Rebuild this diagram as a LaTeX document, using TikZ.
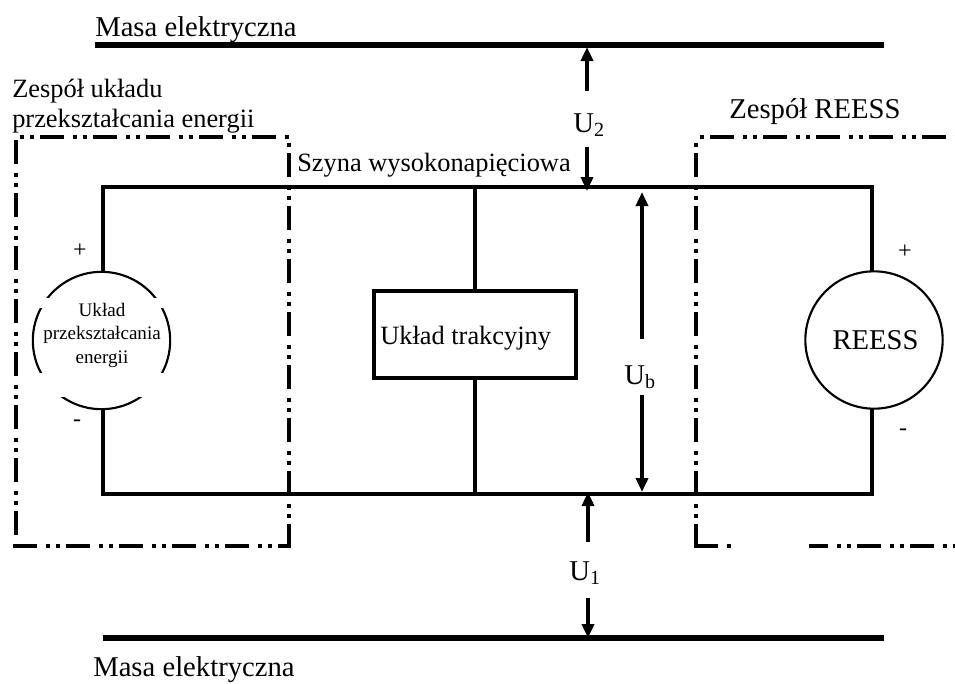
\documentclass[tikz,border=0pt]{standalone}
\usepackage{fontspec}
\setmainfont{Liberation Serif}
\usetikzlibrary{arrows.meta,calc}
\newcommand{\fsz}[2]{\fontsize{#1}{#2}\selectfont}
\tikzset{
  x=0.75pt,y=-0.75pt,
  wire/.style={line width=2.5pt,line cap=rect},
  bar/.style={line width=5.2pt},
  dd/.style={line width=3pt,dash pattern=on 18pt off 6.5pt on 3pt off 4.5pt on 3pt off 4.75pt},
  volt/.style={line width=2.8pt,-{Triangle[length=10.5pt,width=9pt]}},
  lab/.style={inner sep=0pt,font=\fsz{21.5}{22.5}},
  labs/.style={inner sep=0pt,font=\fsz{19.8}{22.5}},
  ring/.style={circle,draw,line width=1.6pt,minimum size=103pt,inner sep=0pt},
  mask/.style={fill=white,draw=none},
  sgn/.style={inner sep=0pt,font=\fsz{18}{20}},
}
\begin{document}
\begin{tikzpicture}
\useasboundingbox (0,0) rectangle (955,683);
% thick ground bars
\coordinate (gtl) at (95,45); \coordinate (gtr) at (884,45);
\coordinate (gbl) at (103,638); \coordinate (gbr) at (884,638);
\draw[bar] (gtl) -- (gtr);
\draw[bar] (gbl) -- (gbr);
% dash-dot-dot enclosures
\draw[dd,dash phase=21pt] (15,137) -- (289,137);
\draw[dd] (15.5,140) -- (15.5,546);
\draw[dd] (13,546) -- (291,546);
\draw[dd,dash phase=27.75pt] (289,137) -- (289,546);
\draw[dd,dash phase=29.25pt] (696,137) -- (955,137);
\draw[dd,dash phase=27.75pt] (696,137) -- (696,546);
\draw[dd] (694,545.5) -- (732,545.5);
\draw[dd,dash phase=3.75pt] (809,545.5) -- (955,545.5);
% circuit nodes
\node[ring] (src) at (101.5,340.5) {};
\fill[mask] (25,298) rectangle (180,308);
\fill[mask] (25,373) rectangle (180,397);
\node[ring] (ess) at (874,340) {};
\node[draw,line width=2.7pt,minimum width=151.5pt,minimum height=65.25pt,inner sep=0pt] (trac) at (475,334.5) {};
\coordinate (bl) at (103,187); \coordinate (br) at (872,187);
\coordinate (dl) at (103,494); \coordinate (dr) at (872,494);
\coordinate (bm) at (475,187); \coordinate (dm) at (475,494);
\draw[wire] (src.north -| bl) -- (bl) -- (br) -- (ess.north -| br);
\draw[wire] (src.south -| dl) -- (dl) -- (dr) -- (ess.south -| dr);
\draw[wire] (bm) -- (trac.north);
\draw[wire] (trac.south) -- (dm);
% voltage labels and arrows
\node[lab] (u2) at (589,125) {U\textsubscript{2}};
\node[lab] (u1) at (585,573) {U\textsubscript{1}};
\node[lab] (ub) at (640,377) {U\textsubscript{b}};
\coordinate (u2a) at (587,91); \coordinate (u2at) at (587,47);
\coordinate (u2b) at (587,147); \coordinate (u2bt) at (587,191);
\coordinate (uba) at (642,339); \coordinate (ubat) at (642,192);
\coordinate (ubb) at (642,395); \coordinate (ubbt) at (642,492);
\coordinate (u1a) at (588,542); \coordinate (u1at) at (588,492);
\coordinate (u1b) at (588,598); \coordinate (u1bt) at (588,638);
\draw[volt] (u2a) -- (u2at);
\draw[volt] (u2b) -- (u2bt);
\draw[volt] (uba) -- (ubat);
\draw[volt] (ubb) -- (ubbt);
\draw[volt] (u1a) -- (u1at);
\draw[volt] (u1b) -- (u1bt);
% texts
\node[lab,anchor=base west] (t1) at (95,36) {Masa elektryczna};
\node[lab,anchor=base west] (t2) at (93,676) {Masa elektryczna};
\node[labs,anchor=base west] (t3) at (12,97) {Zespół układu};
\node[labs,anchor=base west] (t4) at (12,127) {przekształcania energii};
\node[lab,anchor=base west] (t5) at (729,118) {Zespół REESS};
\node[labs,anchor=base west] (t6) at (297,171) {Szyna wysokonapięciowa};
\node[labs,anchor=base west] (t7) at (380,344) {Układ trakcyjny};
\node[lab] (t8) at (875.5,340) {REESS};
\node[inner sep=0pt,align=center,font=\fsz{14.3}{17.6}] (t9) at (102,335) {Układ\\przekształcania\\energii};
\node[sgn] (p1) at (80,251) {+};
\node[sgn] (m1) at (77,423) {-};
\node[sgn] (p2) at (905,252) {+};
\node[sgn] (m2) at (903,432) {-};
\end{tikzpicture}
\end{document}
